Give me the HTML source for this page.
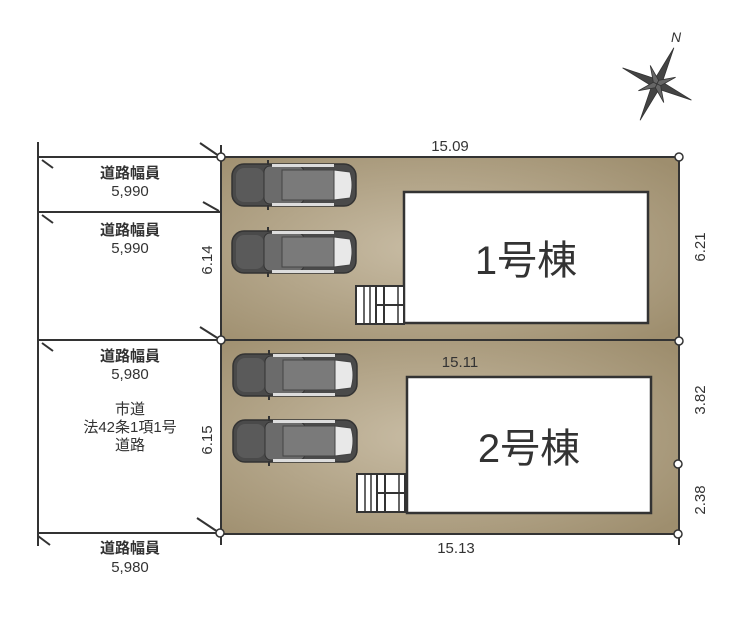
<!DOCTYPE html>
<html><head><meta charset="utf-8"><style>
html,body{margin:0;padding:0;background:#fff;}
svg{display:block;}
text{font-family:"Liberation Sans","Noto Sans CJK JP",sans-serif;fill:#333;}
</style></head><body>
<svg width="740" height="644" viewBox="0 0 740 644" xmlns="http://www.w3.org/2000/svg">
<defs>
<radialGradient id="g" cx="0.45" cy="0.5" r="0.7">
<stop offset="0" stop-color="#c8bca4"/><stop offset="1" stop-color="#9e8e6e"/>
</radialGradient>
<g id="car">
<rect x="0" y="4" width="124" height="42" rx="12" fill="#4a4a4a" stroke="#333" stroke-width="1.5"/>
<rect x="4" y="8" width="28" height="34" rx="8" fill="#5a5a5a"/>
<rect x="32" y="6" width="40" height="38" rx="6" fill="#6b6b6b" stroke="#333"/>
<rect x="50" y="10" width="52" height="30" fill="#7a7a7a" stroke="#444"/>
<path d="M102 10 L118 12 Q122 25 118 38 L102 40 Z" fill="#e8e8e8" stroke="#444"/>
<rect x="40" y="4" width="62" height="3" fill="#ddd"/>
<rect x="40" y="43" width="62" height="3" fill="#ddd"/>
<line x1="36" y1="0" x2="36" y2="5" stroke="#333" stroke-width="2"/>
<line x1="36" y1="45" x2="36" y2="50" stroke="#333" stroke-width="2"/>
</g>
<g id="stairs">
<rect x="0" y="0" width="48" height="38" fill="#fff" stroke="#333" stroke-width="2"/>
<line x1="8" y1="0" x2="8" y2="38" stroke="#333" stroke-width="1.5"/>
<line x1="14" y1="0" x2="14" y2="38" stroke="#333" stroke-width="1.5"/>
<line x1="20" y1="0" x2="20" y2="38" stroke="#333" stroke-width="2"/>
<line x1="28" y1="0" x2="28" y2="38" stroke="#333" stroke-width="2"/>
<line x1="20" y1="19" x2="48" y2="19" stroke="#333" stroke-width="2"/>
<line x1="42" y1="0" x2="42" y2="38" stroke="#333" stroke-width="1.5"/>
</g>
</defs>
<!-- lots -->
<rect x="221" y="157" width="458" height="183" fill="url(#g)" stroke="#333" stroke-width="2"/>
<rect x="221" y="340" width="458" height="194" fill="url(#g)" stroke="#333" stroke-width="2"/>
<!-- buildings -->
<rect x="404" y="192" width="244" height="131" fill="#fff" stroke="#333" stroke-width="2.5"/>
<rect x="407" y="377" width="244" height="136" fill="#fff" stroke="#333" stroke-width="2.5"/>
<use href="#stairs" x="356" y="286"/>
<use href="#stairs" x="357" y="474"/>
<use href="#car" x="232" y="160"/>
<use href="#car" x="232" y="227"/>
<use href="#car" x="233" y="350"/>
<use href="#car" x="233" y="416"/>
<text x="526" y="274" font-size="40" text-anchor="middle">1号棟</text>
<text x="529" y="462" font-size="40" text-anchor="middle">2号棟</text>
<!-- road lines -->
<g stroke="#333" stroke-width="2" fill="none">
<line x1="38" y1="142" x2="38" y2="546"/>
<line x1="38" y1="157" x2="221" y2="157"/>
<line x1="38" y1="212" x2="221" y2="212"/>
<line x1="38" y1="340" x2="221" y2="340"/>
<line x1="38" y1="533" x2="221" y2="533"/>
<line x1="221" y1="145" x2="221" y2="545"/>
<line x1="679" y1="157" x2="679" y2="545"/>
<line x1="42" y1="160" x2="53" y2="168"/>
<line x1="42" y1="215" x2="53" y2="223"/>
<line x1="42" y1="343" x2="53" y2="351"/>
<line x1="38" y1="536" x2="50" y2="545"/>
<line x1="200" y1="143" x2="219" y2="156"/>
<line x1="203" y1="202" x2="219" y2="211"/>
<line x1="200" y1="327" x2="219" y2="339"/>
<line x1="197" y1="518" x2="218" y2="532"/>
</g>
<g fill="#fff" stroke="#333" stroke-width="1.5">
<circle cx="221" cy="157" r="4"/><circle cx="679" cy="157" r="4"/>
<circle cx="221" cy="340" r="4"/><circle cx="679" cy="341" r="4"/>
<circle cx="678" cy="464" r="4"/><circle cx="678" cy="534" r="4"/>
<circle cx="220" cy="533" r="4"/>
</g>
<!-- labels -->
<g font-size="15" text-anchor="middle">
<text x="130" y="178" font-weight="bold">道路幅員</text><text x="130" y="196">5,990</text>
<text x="130" y="235" font-weight="bold">道路幅員</text><text x="130" y="253">5,990</text>
<text x="130" y="361" font-weight="bold">道路幅員</text><text x="130" y="379">5,980</text>
<text x="130" y="414">市道</text><text x="130" y="432">法42条1項1号</text><text x="130" y="450">道路</text>
<text x="130" y="553" font-weight="bold">道路幅員</text><text x="130" y="572">5,980</text>
<text x="450" y="151">15.09</text>
<text x="460" y="367">15.11</text>
<text x="456" y="553">15.13</text>
<text transform="translate(212,260) rotate(-90)">6.14</text>
<text transform="translate(212,440) rotate(-90)">6.15</text>
<text transform="translate(705,247) rotate(-90)">6.21</text>
<text transform="translate(705,400) rotate(-90)">3.82</text>
<text transform="translate(705,500) rotate(-90)">2.38</text>
</g>
<!-- compass -->
<g transform="translate(657,84) rotate(25)" fill="#444" stroke="#333" stroke-width="0.8">
<polygon points="0,-40 4,-4 0,0 -4,-4"/>
<polygon points="0,40 4,4 0,0 -4,4"/>
<polygon points="-38,0 -4,-4 0,0 -4,4"/>
<polygon points="38,0 4,-4 0,0 4,4"/>
<polygon points="-14,-14 0,-4 0,0 -4,0" fill="#666"/>
<polygon points="14,-14 0,-4 0,0 4,0" fill="#666"/>
<polygon points="-14,14 0,4 0,0 -4,0" fill="#666"/>
<polygon points="14,14 0,4 0,0 4,0" fill="#666"/>
</g>
<text x="671" y="42" font-size="14" font-style="italic" font-family="Liberation Serif,serif">N</text>
</svg>
</body></html>
